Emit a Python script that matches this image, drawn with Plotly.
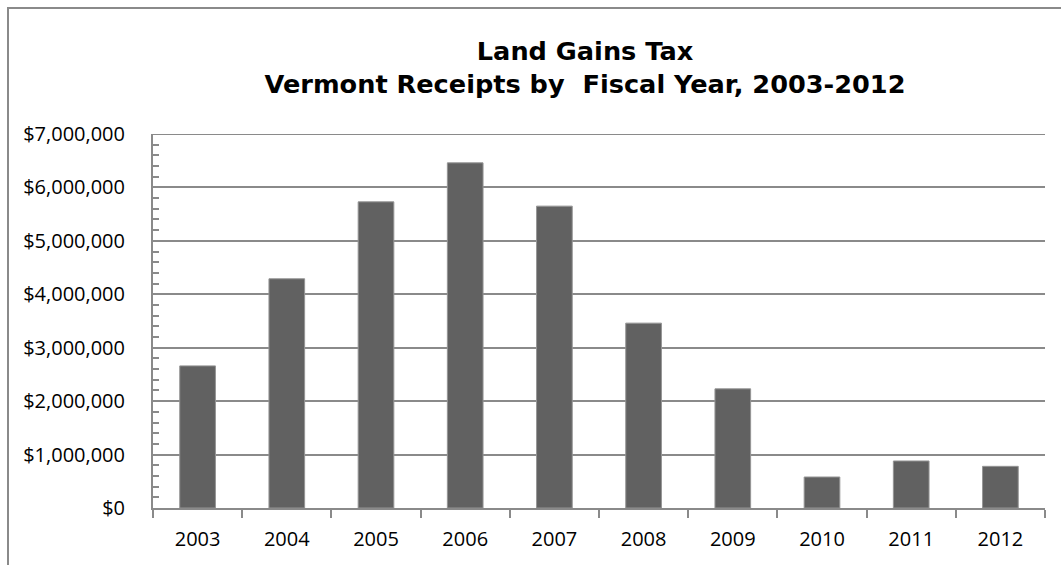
import plotly.graph_objects as go

years = ["2003", "2004", "2005", "2006", "2007", "2008", "2009", "2010", "2011", "2012"]
receipts = [2660000, 4290000, 5730000, 6460000, 5650000, 3460000, 2230000, 580000, 880000, 780000]
y_top = 7000000

W, H = 1061, 565
L, R, T, B = 153, 16, 134, 57
pw, ph = W - L - R, H - T - B

def px_to_paper_x(px):
    return (px - L) / pw

def px_to_paper_y(py):
    return (H - B - py) / ph

grey = "#8a8a8a"
font_family = "Open Sans"

fig = go.Figure(
    go.Bar(
        x=years,
        y=receipts,
        marker=dict(color="#616161", line=dict(color="#959595", width=1)),
        hoverinfo="x+y",
    )
)

fig.update_layout(
    width=W,
    height=H,
    margin=dict(l=L, r=R, t=T, b=B),
    paper_bgcolor="white",
    plot_bgcolor="white",
    bargap=0.6,
    showlegend=False,
    title=dict(
        text="Land Gains Tax<br>Vermont Receipts by  Fiscal Year, 2003-2012",
        x=585 / W,
        xanchor="center",
        y=1 - 60 / H,
        yanchor="middle",
        font=dict(family="DejaVu Sans", size=25.6, color="black", weight="bold"),
    ),
    font=dict(family=font_family, size=20, color="black"),
)

fig.update_xaxes(
    type="category",
    showline=True,
    linecolor=grey,
    linewidth=2,
    ticks="outside",
    tickson="boundaries",
    ticklen=8,
    tickwidth=2,
    tickcolor=grey,
    showgrid=False,
    ticklabelstandoff=12,
    tickfont=dict(family=font_family, size=20, color="black"),
)

fig.update_yaxes(
    range=[0, y_top],
    dtick=1000000,
    tickformat="$,.0f",
    showline=True,
    linecolor=grey,
    linewidth=2,
    ticks="",
    showgrid=True,
    gridcolor=grey,
    gridwidth=2,
    zeroline=False,
    ticklabelstandoff=22,
    tickfont=dict(family=font_family, size=20, color="black"),
    minor=dict(dtick=200000, ticks="inside", ticklen=6, tickwidth=2, tickcolor=grey, showgrid=False),
)

# gridline closing the top of the plot area
fig.add_shape(type="line", xref="paper", yref="y",
              x0=0, x1=1, y0=y_top, y1=y_top,
              line=dict(color=grey, width=2))

# chart frame: left and top edges
fig.add_shape(type="line", xref="paper", yref="paper",
              x0=px_to_paper_x(8), x1=px_to_paper_x(8),
              y0=px_to_paper_y(7), y1=px_to_paper_y(580),
              line=dict(color=grey, width=2))
fig.add_shape(type="line", xref="paper", yref="paper",
              x0=px_to_paper_x(7), x1=px_to_paper_x(1080),
              y0=px_to_paper_y(8), y1=px_to_paper_y(8),
              line=dict(color=grey, width=2))

fig.write_html("out.html")
